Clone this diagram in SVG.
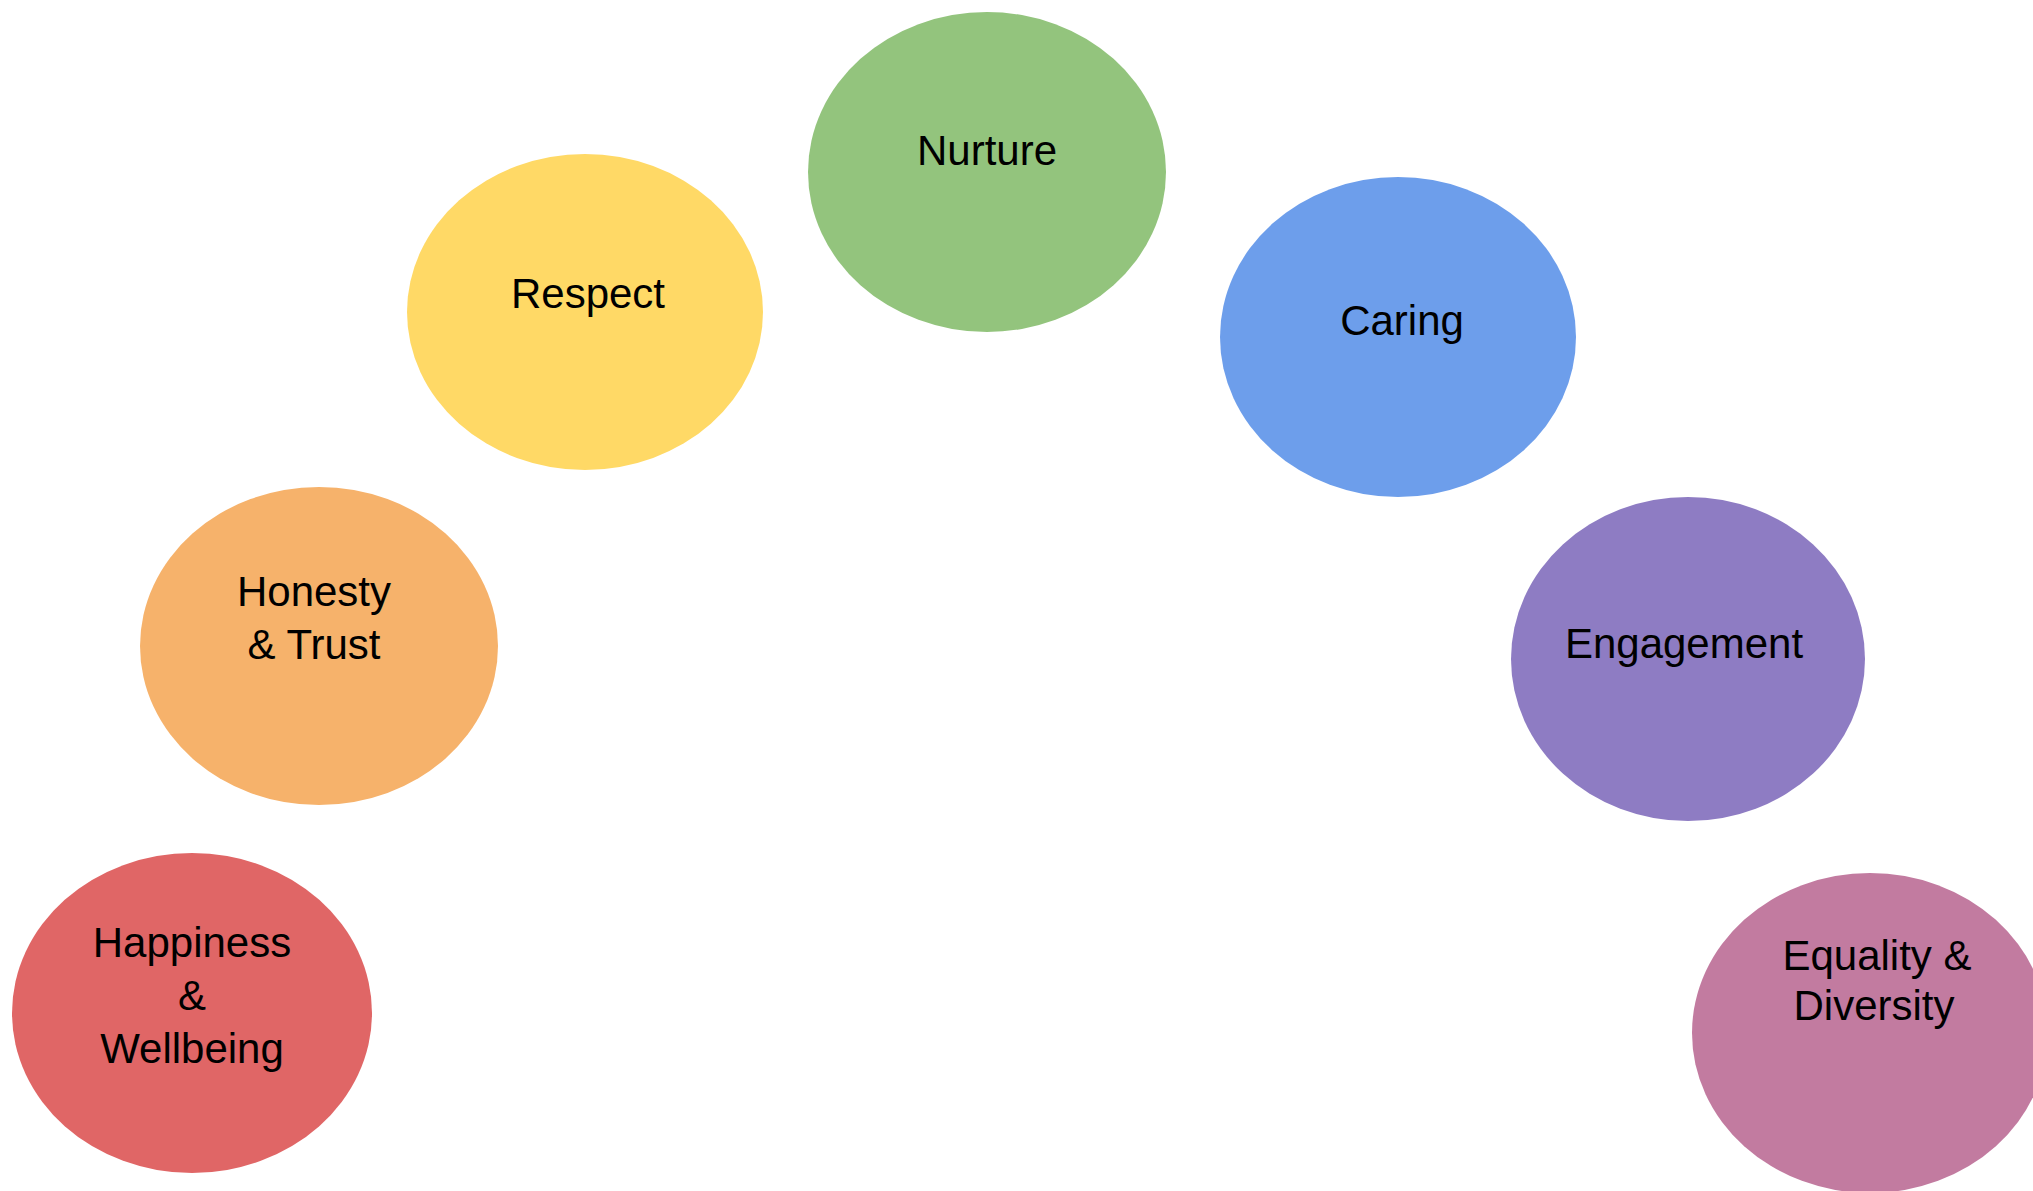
<svg xmlns="http://www.w3.org/2000/svg" width="2033" height="1191" viewBox="0 0 2033 1191">
<style>
.lbl{font-family:"Liberation Sans","Arial",sans-serif;font-size:42px;fill:#000;text-anchor:middle}
</style>
<rect width="2033" height="1191" fill="#ffffff"/>
<g id="connectors"></g>
<g id="node-happiness">
<ellipse cx="192" cy="1013" rx="180" ry="160" fill="#E06666"/>
<text class="lbl" x="192" y="957">Happiness</text>
<text class="lbl" x="192" y="1010">&amp;</text>
<text class="lbl" x="192" y="1063">Wellbeing</text>
</g>
<g id="node-honesty">
<ellipse cx="319" cy="646" rx="179" ry="159" fill="#F6B26B"/>
<text class="lbl" x="314" y="606">Honesty</text>
<text class="lbl" x="314" y="659">&amp; Trust</text>
</g>
<g id="node-respect">
<ellipse cx="585" cy="312" rx="178" ry="158" fill="#FFD966"/>
<text class="lbl" x="588" y="308">Respect</text>
</g>
<g id="node-nurture">
<ellipse cx="987" cy="172" rx="179" ry="160" fill="#93C47D"/>
<text class="lbl" x="987" y="165">Nurture</text>
</g>
<g id="node-caring">
<ellipse cx="1398" cy="337" rx="178" ry="160" fill="#6D9EEB"/>
<text class="lbl" x="1402" y="335">Caring</text>
</g>
<g id="node-engagement">
<ellipse cx="1688" cy="659" rx="177" ry="162" fill="#8E7CC3"/>
<text class="lbl" x="1684" y="658">Engagement</text>
</g>
<g id="node-equality">
<ellipse cx="1870" cy="1033" rx="178" ry="160" fill="#C27BA0"/>
<text class="lbl" x="1877" y="970">Equality &amp;</text>
<text class="lbl" x="1874" y="1020">Diversity</text>
</g>
</svg>
